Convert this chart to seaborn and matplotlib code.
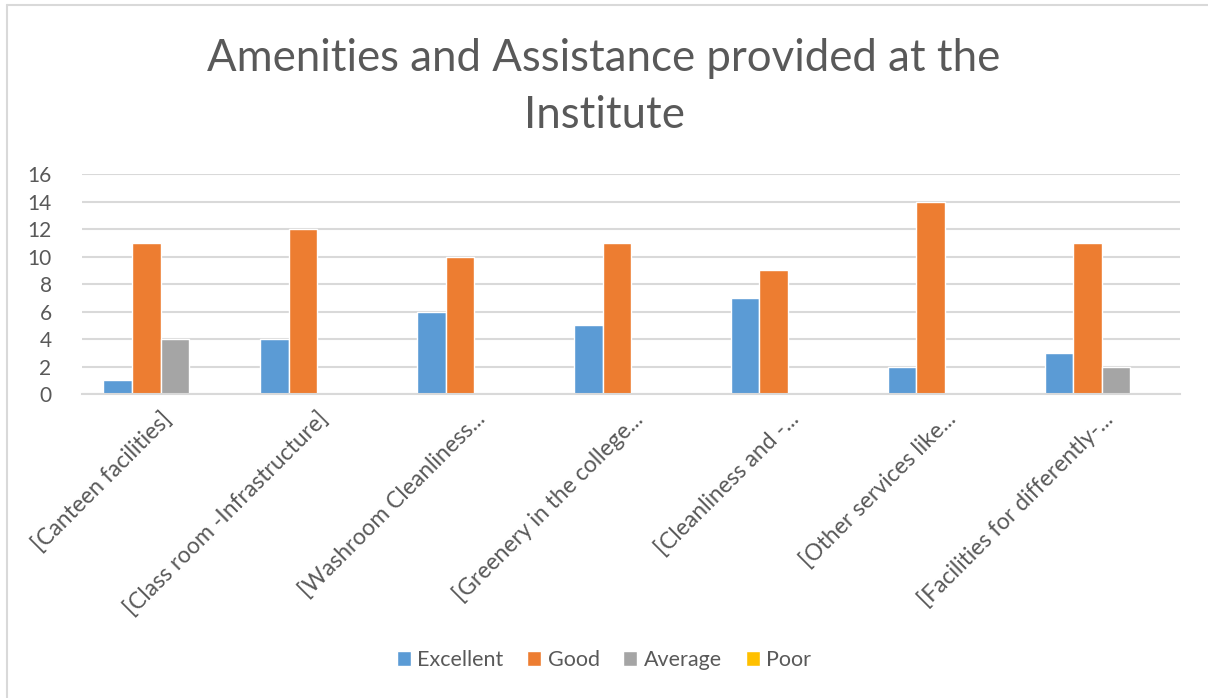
import numpy as np
import pandas as pd
import matplotlib
matplotlib.use("Agg")
import matplotlib.pyplot as plt
from matplotlib.lines import Line2D
import seaborn as sns

# data
categories = [
    "[Canteen facilities]",
    "[Class room -Infrastructure]",
    "[Washroom Cleanliness...",
    "[Greenery in the college...",
    "[Cleanliness and -...",
    "[Other services like...",
    "[Facilities for differently-...",
]
series = ["Excellent", "Good", "Average", "Poor"]
excellent = [1, 4, 6, 5, 7, 2, 3]
good = [11, 12, 10, 11, 9, 14, 11]
average = [4, 0, 0, 0, 0, 0, 2]
poor = [0, 0, 0, 0, 0, 0, 0]
colors = ["#5B9BD5", "#ED7D31", "#A5A5A5", "#FFC000"]

df = pd.DataFrame({
    "category": np.repeat(categories, 4),
    "rating": series * len(categories),
    "count": [v for row in zip(excellent, good, average, poor) for v in row],
})

sns.set_style("white")
plt.rcParams["font.family"] = ["Lato", "DejaVu Sans"]
text_col = "#595959"

fig = plt.figure(figsize=(12.08, 6.98), dpi=100)
ax = fig.add_axes([0.068, 0.4355, 0.909, 0.3152])

sns.barplot(data=df, x="category", y="count", hue="rating",
            hue_order=series, palette=colors, width=0.73, gap=0,
            saturation=1, ax=ax, legend=True)

ax.set_ylim(0, 16)
ax.set_yticks(range(0, 17, 2))
ax.set_xlim(-0.5, len(categories) - 0.5)
ax.yaxis.grid(True, color="#d9d9d9", linewidth=1.5)
ax.set_axisbelow(True)
for s in ["top", "right", "left"]:
    ax.spines[s].set_visible(False)
ax.spines["bottom"].set_color("#d9d9d9")
ax.spines["bottom"].set_linewidth(1.5)
ax.tick_params(axis="both", length=0, colors=text_col, labelsize=15)
ax.tick_params(axis="y", pad=22)
ax.tick_params(axis="x", pad=10)
ax.set_xlabel("")
ax.set_ylabel("")
plt.setp(ax.get_xticklabels(), rotation=45, ha="right",
         rotation_mode="anchor", fontsize=16.5)

ax.legend(loc="center", ncol=4, frameon=False,
          fontsize=15.5, handlelength=0.65, handleheight=0.65,
          handletextpad=0.3, columnspacing=1.1, labelcolor=text_col)
leg = ax.get_legend()
leg.set_bbox_to_anchor((0.5, 1 - 660 / 698), transform=fig.transFigure)

fig.text(0.5, 1 - 87 / 698, "Amenities and Assistance provided at the\nInstitute",
         ha="center", va="center", fontsize=31.5,
         color=text_col, linespacing=1.5)

# chart frame (only top and left edges visible in the reference)
fig.add_artist(Line2D([7 / 1208, 7 / 1208], [0, 1 - 5 / 698],
                      transform=fig.transFigure, color="#d9d9d9", lw=1.5))
fig.add_artist(Line2D([7 / 1208, 1], [1 - 5 / 698, 1 - 5 / 698],
                      transform=fig.transFigure, color="#d9d9d9", lw=1.5))

fig.savefig("out.png", dpi=100)
